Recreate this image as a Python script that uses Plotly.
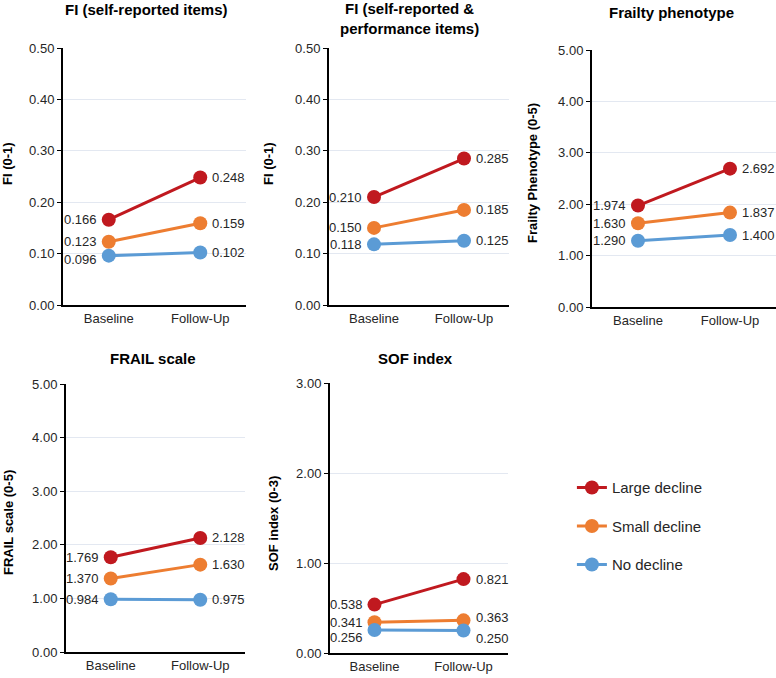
import plotly.graph_objects as go

# data
timepoints = ["Baseline", "Follow-Up"]
groups = ["Large decline", "Small decline", "No decline"]
colors = ["#C0191F", "#ED7D31", "#5B9BD5"]

fi_self = [[0.166, 0.248], [0.123, 0.159], [0.096, 0.102]]
fi_perf = [[0.210, 0.285], [0.150, 0.185], [0.118, 0.125]]
phenotype = [[1.974, 2.692], [1.630, 1.837], [1.290, 1.400]]
frail = [[1.769, 2.128], [1.370, 1.630], [0.984, 0.975]]
sof = [[0.538, 0.821], [0.341, 0.363], [0.256, 0.250]]

panels = [
    dict(vals=fi_self, title="FI (self-reported items)", ytitle="FI (0-1)", ymax=0.5, dtick=0.1),
    dict(vals=fi_perf, title="FI (self-reported &<br>performance items)", ytitle="FI (0-1)", ymax=0.5, dtick=0.1),
    dict(vals=phenotype, title="Frailty phenotype", ytitle="Frailty Phenotype (0-5)", ymax=5, dtick=1),
    dict(vals=frail, title="FRAIL scale", ytitle="FRAIL scale (0-5)", ymax=5, dtick=1),
    dict(vals=sof, title="SOF index", ytitle="SOF index (0-3)", ymax=3, dtick=1),
]

# layout in pixels (x0, x1, ytop, ybottom)
W, H = 776, 678
boxes = [(63, 246, 48, 305), (329, 509, 48, 305), (592, 776, 50, 307),
         (66, 245, 384, 652), (330, 508, 383, 653)]
title_pos = [(146, 10), (409, 18), (671, 12), (153, 358), (415, 358)]
ytitle_pos = [(8, 164), (269, 164), (532, 173), (8, 523), (273, 524)]

# small vertical nudges for a few labels, (panel, group, point) -> px
nudge = {(0, 2, 0): -4, (4, 2, 0): -8, (4, 2, 1): -8, (4, 1, 1): 3}

font = "Liberation Sans, Arial, sans-serif"
fig = go.Figure()
annotations = []

for p, panel in enumerate(panels):
    n = "" if p == 0 else str(p + 1)
    xa, ya = "x" + n, "y" + n
    x0, x1, yt, yb = boxes[p]
    fig.update_layout(**{
        "xaxis" + n: dict(domain=[x0 / W, x1 / W], anchor=ya, type="category",
                          range=[-0.5, 1.5], showline=True, linecolor="black", linewidth=2,
                          ticks="", ticklabelstandoff=0, showgrid=False,
                          tickfont=dict(size=13, color="#262626"),
                          automargin=False, fixedrange=True),
        "yaxis" + n: dict(domain=[1 - yb / H, 1 - yt / H], anchor=xa,
                          range=[0, panel["ymax"]], dtick=panel["dtick"], tickformat=".2f",
                          showline=True, linecolor="black", linewidth=2, ticks="outside",
                          ticklen=4, tickcolor="black", gridcolor="#E3E8F1", gridwidth=1,
                          zeroline=False, tickfont=dict(size=13, color="#262626"),
                          automargin=False, fixedrange=True),
    })
    for g, grp in enumerate(groups):
        vals = panel["vals"][g]
        fig.add_trace(go.Scatter(
            x=timepoints, y=vals, xaxis=xa, yaxis=ya, mode="lines+markers",
            line=dict(color=colors[g], width=3), marker=dict(color=colors[g], size=14),
            name=grp, legendgroup=grp, showlegend=(p == 0), cliponaxis=False))
        for i, v in enumerate(vals):
            annotations.append(dict(
                x=i, y=v, xref=xa, yref=ya, text=f"{v:.3f}", showarrow=False,
                xanchor="right" if i == 0 else "left", xshift=-10 if i == 0 else 10,
                yshift=nudge.get((p, g, i), 0), font=dict(size=13, color="#262626")))
    tx, ty = title_pos[p]
    annotations.append(dict(x=tx / W, y=1 - ty / H, xref="paper", yref="paper",
                            text="<b>" + panel["title"] + "</b>", showarrow=False,
                            font=dict(size=15, color="black"), xanchor="center", yanchor="middle"))
    ax_, ay_ = ytitle_pos[p]
    annotations.append(dict(x=ax_ / W, y=1 - ay_ / H, xref="paper", yref="paper",
                            text="<b>" + panel["ytitle"] + "</b>", showarrow=False, textangle=-90,
                            font=dict(size=13, color="black"), xanchor="center", yanchor="middle"))

fig.update_layout(
    width=W, height=H, margin=dict(l=0, r=0, t=0, b=0, autoexpand=False),
    paper_bgcolor="white", plot_bgcolor="white",
    font=dict(family=font, color="#262626"),
    annotations=annotations,
    legend=dict(x=0.737, y=0.305, xanchor="left", yanchor="top", tracegroupgap=16,
                font=dict(size=15, color="#262626"), itemwidth=30),
)

# drop the default page margin so the figure sits at the window's corner
fig.write_html("out.html", config={"displayModeBar": False},
               post_script="document.body.style.margin='0';document.body.style.overflow='hidden';")
